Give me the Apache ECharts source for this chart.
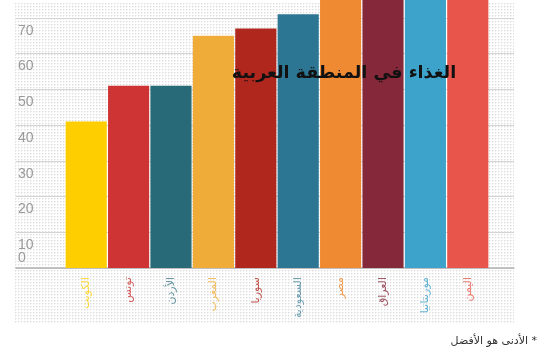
<!DOCTYPE html>
<html>
<head>
<meta charset="utf-8">
<script src="https://cdn.jsdelivr.net/npm/echarts@6/dist/echarts.min.js"></script>
<style>html,body{margin:0;padding:0;background:#fff}#c{width:550px;height:356px}</style>
</head>
<body>
<div id="c"></div>
<script>
const categories = ['الكويت','تونس','الأردن','المغرب','سوريا','السعودية','مصر','العراق','موريتانيا','اليمن'];
const values = [41, 51, 51, 65, 67, 71, 76, 77, 78, 79];
const barColors = ['#FFCE00','#CF3434','#286A78','#F0AC38','#B0271E','#2C7693','#F08A32','#84283A','#3DA3CA','#E8564B'];
const labelColors = ['rgba(255,206,0,0.75)','rgba(207,52,52,0.8)','rgba(40,106,120,0.7)','rgba(240,172,56,0.8)','rgba(176,39,30,0.8)','rgba(44,118,147,0.7)','rgba(240,138,50,0.85)','rgba(132,40,58,0.8)','rgba(61,163,202,0.8)','rgba(232,86,75,0.8)'];
const yTicks = [0, 10, 20, 30, 40, 50, 60, 70];
const yTop = 75;
const titleText = 'الغذاء في المنطقة العربية';
const noteText = '\u200F* الأدنى هو الأفضل';

// dotted background tile
const tile = document.createElement('canvas');
tile.width = 3; tile.height = 3;
const tc = tile.getContext('2d');
tc.fillStyle = '#ffffff'; tc.fillRect(0,0,3,3);
tc.fillStyle = '#dedede'; tc.fillRect(0,0,1,1);
tc.fillStyle = '#efefef'; tc.fillRect(1,0,1,1); tc.fillRect(0,1,1,1);

const chart = echarts.init(document.getElementById('c'), null, {renderer:'canvas'});
const yMin = yTicks[0], yInt = yTicks[1]-yTicks[0];
const labFont = 'Liberation Sans Narrow, Liberation Sans, sans-serif';
const baseY = {type: 'value', gridIndex: 1, position: 'left', offset: 0, min: yMin, max: yTop, interval: yInt,
  axisLine: {show: false}, axisTick: {show: false}};
chart.setOption({
  animation: false,
  title: [
    {text: titleText, left: 339, top: 59, textAlign: 'center',
     textStyle: {fontFamily: 'DejaVu Sans', fontWeight: 'bold', fontSize: 17.5, color: '#111'}},
    {text: noteText, right: 8, top: 331,
     textStyle: {fontFamily: 'DejaVu Sans', fontWeight: 'normal', fontSize: 11, color: '#333'}}
  ],
  graphic: [{
    type: 'rect', z: -100, silent: true,
    shape: {x: 15, y: 3, width: 499, height: 321},
    style: {fill: {image: tile, repeat: 'repeat'}}
  }],
  grid: [
    {left: 65, right: 61, top: 0, bottom: 88},
    {left: 16, right: 36, top: 0, bottom: 88}
  ],
  xAxis: [
    {type: 'category', gridIndex: 0,
     data: categories.map((c,i)=>({value: c, textStyle: {color: labelColors[i]}})),
     axisLine: {show: false}, axisTick: {show: false},
     axisLabel: {interval: 0, rotate: 90, margin: 9, fontSize: 11, fontFamily: 'DejaVu Sans'}},
    {type: 'category', gridIndex: 1, data: [''],
     axisLine: {show: true, lineStyle: {color: '#b5b5b5', width: 1.5}},
     axisTick: {show: false}, axisLabel: {show: false}}
  ],
  yAxis: [
    {type: 'value', gridIndex: 0, min: yMin, max: yTop, interval: yInt,
     axisLine: {show: false}, axisTick: {show: false}, axisLabel: {show: false}, splitLine: {show: false}},
    Object.assign({}, baseY, {
     splitLine: {show: true, showMaxLine: false, lineStyle: {color: '#d4d4d4', width: 1.2}},
     axisLabel: {inside: true, margin: 2, color: '#9a9a9a', fontSize: 14, fontFamily: labFont,
       verticalAlign: 'top', lineHeight: 14, padding: [6,0,0,0],
       showMinLabel: false, showMaxLabel: false,
       formatter: v => (v === 0 || yTicks.indexOf(v) < 0) ? '' : String(v)}}),
    Object.assign({}, baseY, {
     splitLine: {show: false},
     axisLabel: {inside: true, margin: 2, color: '#9a9a9a', fontSize: 14, fontFamily: labFont,
       verticalAlign: 'bottom', lineHeight: 14, padding: [0,0,3,0],
       showMinLabel: true, showMaxLabel: false,
       formatter: v => v === 0 ? '0' : ''}})
  ],
  series: [{
    type: 'bar', xAxisIndex: 0, yAxisIndex: 0,
    data: values.map((v,i)=>({value: v, itemStyle: {color: barColors[i]}})),
    barCategoryGap: '3%', clip: true
  }]
});
</script>
</body>
</html>
